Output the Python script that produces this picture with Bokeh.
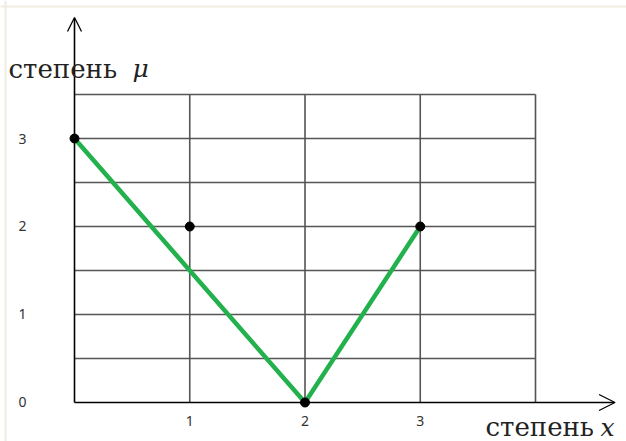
from bokeh.plotting import figure
from bokeh.models import Arrow, OpenHead, Label, ColumnDataSource, Span
from bokeh.core.properties import value
from bokeh.embed import file_html
from bokeh.resources import INLINE

# data
x_points = [0, 1, 2, 3]
mu_points = [3, 2, 0, 2]
line_x = [0, 2, 3]
line_mu = [3, 0, 2]
x_tick_values = [1, 2, 3]
x_tick_labels = ["1", "2", "3"]
y_tick_values = [0, 1, 2, 3]
y_tick_labels = ["0", "1", "2", "3"]
x_grid = [1, 2, 3, 4]
y_grid = [0.5, 1, 1.5, 2, 2.5, 3, 3.5]
x_max, y_max = 4, 3.5

W, H = 626, 441
p = figure(width=W, height=H, output_backend="svg", toolbar_location=None,
           x_range=(-0.6421, 4.7896), y_range=(-0.4432, 4.5682),
           min_border=0, outline_line_color=None)
p.axis.visible = False
p.grid.visible = False
p.background_fill_color = "white"
p.border_fill_color = "white"

# faint picture border
p.add_layout(Span(location=-0.5987, dimension="height", line_color="#efece0", line_width=2))
p.add_layout(Span(location=4.5, dimension="width", line_color="#efece0", line_width=2))

grid_color = "#555555"
p.segment(x0=x_grid, y0=[0] * len(x_grid), x1=x_grid, y1=[y_max] * len(x_grid),
          line_color=grid_color, line_width=1.6)
p.segment(x0=[0] * len(y_grid), y0=y_grid, x1=[x_max] * len(y_grid), y1=y_grid,
          line_color=grid_color, line_width=1.6)

# axes with arrows
p.add_layout(Arrow(end=OpenHead(size=14, line_color="black", line_width=1.3),
                   x_start=0, y_start=0, x_end=0, y_end=4.375,
                   line_color="black", line_width=1.6))
p.add_layout(Arrow(end=OpenHead(size=16, line_color="black", line_width=1.3),
                   x_start=0, y_start=0, x_end=4.69, y_end=0,
                   line_color="black", line_width=1.6))

# green line
p.line(line_x, line_mu, line_color="#22b14c", line_width=4.5)
# points
p.scatter(x_points, mu_points, size=9, color="black")

# tick labels
src_x = ColumnDataSource(dict(x=x_tick_values, y=[-0.205] * len(x_tick_values), t=x_tick_labels))
p.text(x="x", y="y", text="t", source=src_x, text_align="center", text_baseline="middle",
       text_font_size="14px", text_color="#333333", text_font=value("Noto Sans"))
src_y = ColumnDataSource(dict(x=[-0.451] * len(y_tick_values), y=y_tick_values, t=y_tick_labels))
p.text(x="x", y="y", text="t", source=src_y, text_align="center", text_baseline="middle",
       text_font_size="14px", text_color="#333333", text_font=value("Noto Sans"))

# axis titles
serif = "DejaVu Serif"
p.add_layout(Label(x=-0.5727, y=3.795, text="степень", text_font=serif,
                   text_font_size="26px", text_baseline="alphabetic", text_color="#222222"))
p.add_layout(Label(x=0.503, y=3.795, text="μ", text_font=serif,
                   text_font_style="italic", text_font_size="25px", text_baseline="alphabetic",
                   text_color="#222222"))
p.add_layout(Label(x=3.566, y=-0.284, text="степень", text_font=serif,
                   text_font_size="26px", text_baseline="alphabetic", text_color="#222222"))
p.add_layout(Label(x=4.564, y=-0.284, text="x", text_font=serif,
                   text_font_style="italic", text_font_size="25px", text_baseline="alphabetic",
                   text_color="#222222"))

open("out.html", "w").write(file_html(p, INLINE))
